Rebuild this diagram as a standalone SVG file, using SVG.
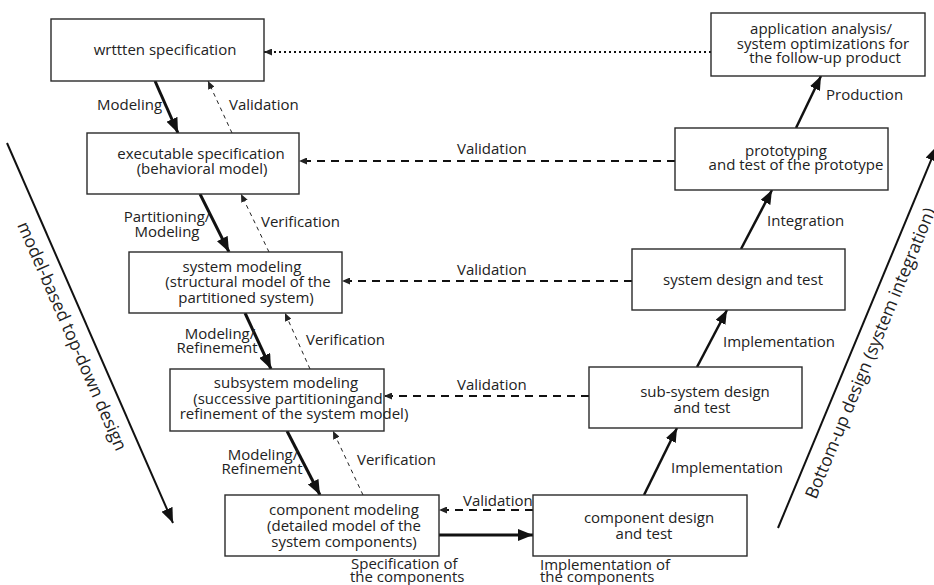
<svg xmlns="http://www.w3.org/2000/svg" width="934" height="585" viewBox="0 0 934 585">
<style>
.box{fill:#fff;stroke:#2a2a2a;stroke-width:1.4}
text{font-family:"Open Sans","Liberation Sans",sans-serif;font-size:15px;fill:#222}
.c{text-anchor:middle}
.big{font-size:17.5px}
.thick{stroke:#111;stroke-width:3;fill:none}
.up{stroke:#111;stroke-width:2.5;fill:none}
.ver{stroke:#222;stroke-width:1;stroke-dasharray:4,4;fill:none}
.val{stroke:#111;stroke-width:2;stroke-dasharray:8,6;fill:none}
.dot{stroke:#111;stroke-width:2;stroke-dasharray:2,3;fill:none}
.diag{stroke:#111;stroke-width:2;fill:none}
</style>
<defs>
<marker id="ah" markerUnits="userSpaceOnUse" markerWidth="15" markerHeight="12" refX="15" refY="6" orient="auto"><path d="M0,0L15,6L0,12z" fill="#111"/></marker>
<marker id="ahm" markerUnits="userSpaceOnUse" markerWidth="14" markerHeight="11" refX="14" refY="5.5" orient="auto"><path d="M0,0L14,5.5L0,11z" fill="#111"/></marker>
<marker id="as" markerUnits="userSpaceOnUse" markerWidth="8" markerHeight="7" refX="8" refY="3.5" orient="auto"><path d="M0,0L8,3.5L0,7z" fill="#222"/></marker>
</defs>

<g id="connectors">
<line class="thick" x1="155" y1="81" x2="178" y2="133" marker-end="url(#ah)"/>
<line class="ver" x1="232" y1="133" x2="208" y2="81" marker-end="url(#as)"/>
<line class="thick" x1="200" y1="194" x2="229" y2="252" marker-end="url(#ah)"/>
<line class="ver" x1="269" y1="252" x2="241" y2="194" marker-end="url(#as)"/>
<line class="thick" x1="245" y1="313" x2="271" y2="369" marker-end="url(#ah)"/>
<line class="ver" x1="310" y1="369" x2="285" y2="313" marker-end="url(#as)"/>
<line class="thick" x1="287" y1="431" x2="320" y2="495" marker-end="url(#ah)"/>
<line class="ver" x1="363" y1="495" x2="333" y2="431" marker-end="url(#as)"/>
<line class="val" x1="675" y1="161" x2="299" y2="161" marker-end="url(#as)"/>
<line class="val" x1="632" y1="281" x2="342" y2="281" marker-end="url(#as)"/>
<line class="val" x1="589" y1="396" x2="384" y2="396" marker-end="url(#as)"/>
<line class="val" x1="533" y1="510" x2="439" y2="510" marker-end="url(#as)"/>
<line class="thick" x1="439" y1="535" x2="533" y2="535" marker-end="url(#ah)"/>
<line class="up" x1="644" y1="495" x2="677" y2="428" marker-end="url(#ahm)"/>
<line class="up" x1="697" y1="367" x2="727" y2="310" marker-end="url(#ahm)"/>
<line class="up" x1="741" y1="249" x2="772" y2="190" marker-end="url(#ahm)"/>
<line class="up" x1="796" y1="128" x2="821" y2="76" marker-end="url(#ahm)"/>
<line class="dot" x1="711" y1="52" x2="264" y2="52" marker-end="url(#as)"/>
<line class="diag" x1="7" y1="143" x2="173" y2="523" marker-end="url(#ah)"/>
<line class="diag" x1="778" y1="528" x2="937" y2="146" marker-end="url(#ah)"/>
</g>

<g id="labels">
<text x="97" y="110">Modeling</text>
<text x="229" y="110">Validation</text>
<text x="457" y="154">Validation</text>
<text class="c" x="167" y="222">Partitioning/</text>
<text class="c" x="167" y="237">Modeling</text>
<text x="261" y="227">Verification</text>
<text x="457" y="275">Validation</text>
<text class="c" x="220" y="339">Modeling/</text>
<text class="c" x="217" y="353">Refinement</text>
<text x="306" y="345">Verification</text>
<text x="457" y="390">Validation</text>
<text class="c" x="263" y="460">Modeling/</text>
<text class="c" x="262" y="474">Refinement</text>
<text x="357" y="465">Verification</text>
<text x="463" y="506">Validation</text>
<text x="351" y="569">Specification of</text>
<text x="350" y="582">the components</text>
<text x="540" y="570">Implementation of</text>
<text x="540" y="582">the components</text>
<text x="671" y="473">Implementation</text>
<text x="723" y="347">Implementation</text>
<text x="767" y="226">Integration</text>
<text x="826" y="100">Production</text>
<text class="big" transform="translate(17,225) rotate(66.4)">model-based top-down design</text>
<text class="big" transform="translate(816,500) rotate(-67.5)">Bottom-up design (system integration)</text>
</g>

<g id="n-written"><rect class="box" x="51" y="19" width="213" height="62"/><text class="c" x="165" y="55">wrttten specification</text></g>
<g id="n-exec"><rect class="box" x="87" y="133" width="212" height="61"/><text class="c" x="201" y="159">executable specification</text><text class="c" x="202" y="174">(behavioral model)</text></g>
<g id="n-app"><rect class="box" x="711" y="13" width="214" height="63"/><text class="c" x="821" y="34">application analysis/</text><text class="c" x="823" y="49">system optimizations for</text><text class="c" x="825" y="63">the follow-up product</text></g>
<g id="n-proto"><rect class="box" x="675" y="128" width="213" height="62"/><text class="c" x="786" y="156">prototyping</text><text class="c" x="796" y="170">and test of the prototype</text></g>
<g id="n-sysmodel"><rect class="box" x="129" y="252" width="213" height="61"/><text class="c" x="242" y="272">system modeling</text><text class="c" x="248" y="287">(structural model of the</text><text class="c" x="246" y="303">partitioned system)</text></g>
<g id="n-subsysmodel"><rect class="box" x="170" y="369" width="214" height="62"/><text class="c" x="286" y="388">subsystem modeling</text><text class="c" x="288" y="404">(successive partitioningand</text><text class="c" x="294" y="419">refinement of the system model)</text></g>
<g id="n-compmodel"><rect class="box" x="225" y="495" width="214" height="61"/><text class="c" x="344" y="515">component modeling</text><text class="c" x="344" y="531">(detailed model of the</text><text class="c" x="344" y="547">system components)</text></g>
<g id="n-sysdesign"><rect class="box" x="632" y="249" width="213" height="61"/><text class="c" x="743" y="285">system design and test</text></g>
<g id="n-subsysdesign"><rect class="box" x="589" y="367" width="213" height="61"/><text class="c" x="705" y="397">sub-system design</text><text class="c" x="702" y="413">and test</text></g>
<g id="n-compdesign"><rect class="box" x="533" y="495" width="214" height="61"/><text class="c" x="649" y="523">component design</text><text class="c" x="644" y="539">and test</text></g>
</svg>
